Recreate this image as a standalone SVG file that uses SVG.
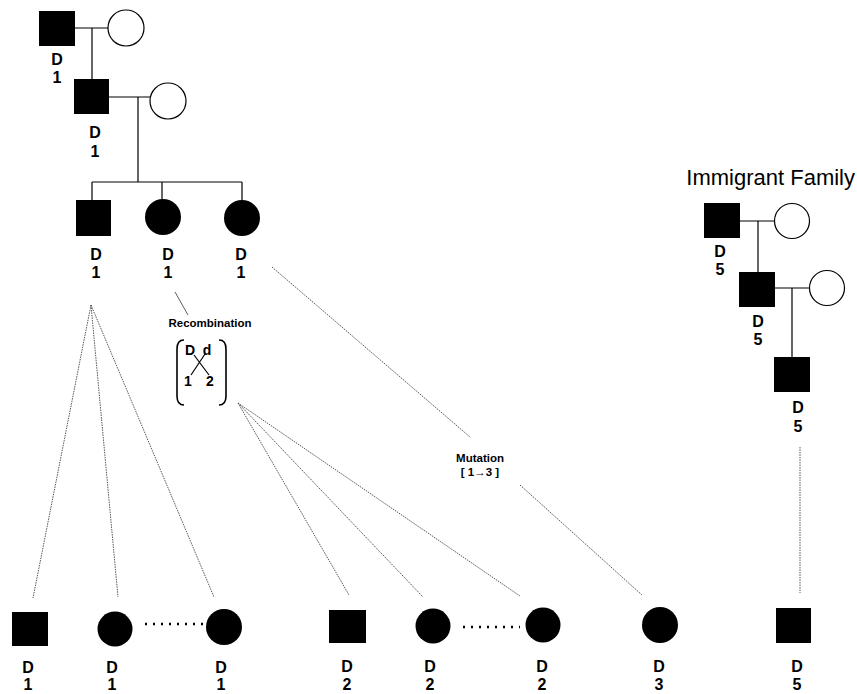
<svg xmlns="http://www.w3.org/2000/svg" width="857" height="694" viewBox="0 0 857 694">
<style>
.aff{fill:#000}
.unf{fill:#fff;stroke:#000;stroke-width:1.2}
.ped{stroke:#000;stroke-width:1.2;fill:none}
.fan{stroke:#444;stroke-width:0.9;stroke-dasharray:1.5 1;fill:none}
.dots{stroke:#000;stroke-width:2.4;stroke-dasharray:2 6;fill:none}
.lab{font-family:"Liberation Sans",Arial,sans-serif;font-weight:bold;font-size:16px;text-anchor:middle;fill:#000}
.small{font-family:"Liberation Sans",Arial,sans-serif;font-weight:bold;font-size:11.5px;text-anchor:middle;fill:#000}
.title{font-family:"Liberation Sans",Arial,sans-serif;font-size:22px;fill:#000}
</style>
<rect width="857" height="694" fill="#fff"/>
<g id="connectors">
  <path class="ped" d="M75 28H108M92 28V79"/>
  <path class="ped" d="M109 97H150M138 97V182M92 182H242M92 182V200M162 182V199M242 182V200"/>
  <path class="ped" d="M740 221H774M758 221V272"/>
  <path class="ped" d="M775 288H809M792 288V357"/>
  <path class="fan" d="M91 305L33 598M91 305L118 597M91 305L214 597"/>
  <path class="ped" style="stroke-width:0.8;stroke:#333" d="M175 292L188 315"/>
  <path class="fan" d="M238 403L349 595M238 403L423 597M238 403L520 596"/>
  <path class="fan" d="M272 267L470 437M520 485L642 595"/>
  <path class="fan" d="M800 447V593"/>
  <path class="dots" d="M145 624H204"/>
  <path class="dots" d="M463 627H520"/>
</g>
<g id="gen1-father"><rect class="aff" x="39" y="11" width="36" height="35"/><text class="lab" x="57" y="65">D</text><text class="lab" x="57" y="83">1</text></g>
<g id="gen1-mother"><circle class="unf" cx="126" cy="28" r="18"/></g>
<g id="gen2-father"><rect class="aff" x="74" y="79" width="35" height="35"/><text class="lab" x="95" y="138">D</text><text class="lab" x="95" y="157">1</text></g>
<g id="gen2-mother"><circle class="unf" cx="168" cy="101" r="18"/></g>
<g id="gen3-son"><rect class="aff" x="76" y="200" width="35" height="36"/><text class="lab" x="96" y="260">D</text><text class="lab" x="96" y="278">1</text></g>
<g id="gen3-daughter1"><circle class="aff" cx="163" cy="217" r="18"/><text class="lab" x="168" y="260">D</text><text class="lab" x="168" y="278">1</text></g>
<g id="gen3-daughter2"><circle class="aff" cx="242" cy="218" r="18"/><text class="lab" x="241" y="260">D</text><text class="lab" x="241" y="278">1</text></g>
<g id="recombination">
  <text class="small" x="210" y="327">Recombination</text>
  <path class="ped" style="stroke-width:1.6" d="M184 340Q177 340 177 349V396Q177 405 184 405M219 340Q226 340 226 349V396Q226 405 219 405"/>
  <text class="small" style="font-size:14px" x="190" y="355">D</text>
  <text class="small" style="font-size:14px" x="207" y="355">d</text>
  <text class="small" style="font-size:14px" x="188" y="386">1</text>
  <text class="small" style="font-size:14px" x="210" y="386">2</text>
  <path class="ped" d="M194 355L209 375M205 354L191 375"/>
</g>
<g id="mutation">
  <text class="small" x="480" y="462">Mutation</text>
  <text class="small" x="480" y="476">[ 1→3 ]</text>
</g>
<g id="immigrant-title"><text class="title" x="855" y="185" text-anchor="end">Immigrant Family</text></g>
<g id="imm1-father"><rect class="aff" x="704" y="203" width="36" height="35"/><text class="lab" x="720" y="257">D</text><text class="lab" x="720" y="275">5</text></g>
<g id="imm1-mother"><circle class="unf" cx="792" cy="221" r="17.5"/></g>
<g id="imm2-father"><rect class="aff" x="739" y="272" width="36" height="35"/><text class="lab" x="758" y="327">D</text><text class="lab" x="758" y="345">5</text></g>
<g id="imm2-mother"><circle class="unf" cx="827" cy="288" r="17.5"/></g>
<g id="imm3-son"><rect class="aff" x="774" y="357" width="36" height="35"/><text class="lab" x="798" y="413">D</text><text class="lab" x="798" y="432">5</text></g>
<g id="b1"><rect class="aff" x="12" y="612" width="36" height="34"/><text class="lab" x="28" y="673">D</text><text class="lab" x="28" y="690">1</text></g>
<g id="b2"><circle class="aff" cx="115" cy="629" r="17.5"/><text class="lab" x="112" y="673">D</text><text class="lab" x="112" y="690">1</text></g>
<g id="b3"><circle class="aff" cx="224" cy="627" r="18"/><text class="lab" x="221" y="673">D</text><text class="lab" x="221" y="690">1</text></g>
<g id="b4"><rect class="aff" x="329" y="610" width="37" height="33"/><text class="lab" x="347" y="672">D</text><text class="lab" x="347" y="690">2</text></g>
<g id="b5"><circle class="aff" cx="433" cy="626" r="17.5"/><text class="lab" x="430" y="672">D</text><text class="lab" x="430" y="690">2</text></g>
<g id="b6"><circle class="aff" cx="543" cy="625" r="17.5"/><text class="lab" x="542" y="672">D</text><text class="lab" x="542" y="690">2</text></g>
<g id="b7"><circle class="aff" cx="660" cy="625" r="18"/><text class="lab" x="659" y="672">D</text><text class="lab" x="659" y="690">3</text></g>
<g id="b8"><rect class="aff" x="776" y="608" width="35" height="35"/><text class="lab" x="797" y="672">D</text><text class="lab" x="797" y="690">5</text></g>
</svg>
